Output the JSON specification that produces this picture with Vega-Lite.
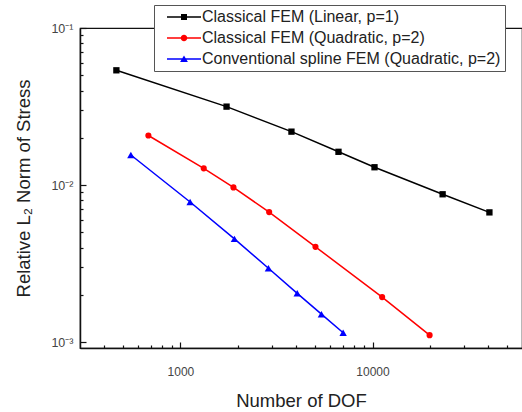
{
  "$schema": "https://vega.github.io/schema/vega-lite/v6.json",
  "autosize": {"type": "none"},
  "padding": {"left": 80, "top": 28, "right": 0, "bottom": 64},
  "width": 442,
  "height": 320,
  "config": {
    "view": {"stroke": "#111", "strokeWidth": 1.2},
    "font": "Liberation Sans"
  },
  "data": {
    "values": [
      {"series": "Classical FEM (Linear, p=1)", "dof": 464, "err": 0.0538},
      {"series": "Classical FEM (Linear, p=1)", "dof": 1738, "err": 0.0316},
      {"series": "Classical FEM (Linear, p=1)", "dof": 3784, "err": 0.0219},
      {"series": "Classical FEM (Linear, p=1)", "dof": 6650, "err": 0.0163},
      {"series": "Classical FEM (Linear, p=1)", "dof": 10240, "err": 0.0130},
      {"series": "Classical FEM (Linear, p=1)", "dof": 23170, "err": 0.00875},
      {"series": "Classical FEM (Linear, p=1)", "dof": 40600, "err": 0.00671},
      {"series": "Classical FEM (Quadratic, p=2)", "dof": 681, "err": 0.0207},
      {"series": "Classical FEM (Quadratic, p=2)", "dof": 1322, "err": 0.0128},
      {"series": "Classical FEM (Quadratic, p=2)", "dof": 1888, "err": 0.00967},
      {"series": "Classical FEM (Quadratic, p=2)", "dof": 2896, "err": 0.00674},
      {"series": "Classical FEM (Quadratic, p=2)", "dof": 5047, "err": 0.00405},
      {"series": "Classical FEM (Quadratic, p=2)", "dof": 11220, "err": 0.00194},
      {"series": "Classical FEM (Quadratic, p=2)", "dof": 19820, "err": 0.00111},
      {"series": "Conventional spline FEM (Quadratic, p=2)", "dof": 552, "err": 0.01556},
      {"series": "Conventional spline FEM (Quadratic, p=2)", "dof": 1123, "err": 0.00781},
      {"series": "Conventional spline FEM (Quadratic, p=2)", "dof": 1910, "err": 0.00455},
      {"series": "Conventional spline FEM (Quadratic, p=2)", "dof": 2872, "err": 0.00296},
      {"series": "Conventional spline FEM (Quadratic, p=2)", "dof": 4055, "err": 0.00205},
      {"series": "Conventional spline FEM (Quadratic, p=2)", "dof": 5420, "err": 0.00151},
      {"series": "Conventional spline FEM (Quadratic, p=2)", "dof": 7030, "err": 0.00115}
    ]
  },
  "encoding": {
    "x": {
      "field": "dof",
      "type": "quantitative",
      "scale": {"type": "log", "domain": [300, 60000], "nice": false},
      "axis": {
        "title": "Number of DOF",
        "titleFontSize": 18.5,
        "titleFontWeight": "normal",
        "titleColor": "#222",
        "titlePadding": 14,
        "values": [400, 500, 600, 700, 800, 900, 1000, 2000, 3000, 4000, 5000, 6000, 7000, 8000, 9000, 10000, 20000, 30000, 40000, 50000],
        "labelExpr": "datum.value == 1000 ? '1000' : datum.value == 10000 ? '10000' : ''",
        "labelFontSize": 12,
        "labelColor": "#444",
        "labelPadding": 24,
        "tickSize": {"condition": {"test": "datum.value == 1000 || datum.value == 10000", "value": -6}, "value": -3},
        "tickColor": "#111",
        "tickWidth": 1.2,
        "domainColor": "#111",
        "domainWidth": 1.5,
        "grid": false
      }
    },
    "y": {
      "field": "err",
      "type": "quantitative",
      "scale": {"type": "log", "domain": [0.00092, 0.1], "nice": false},
      "axis": {
        "title": "Relative L₂ Norm of Stress",
        "titleFontSize": 18.5,
        "titleFontWeight": "normal",
        "titleColor": "#222",
        "titlePadding": 17,
        "values": [0.001, 0.002, 0.003, 0.004, 0.005, 0.006, 0.007, 0.008, 0.009, 0.01, 0.02, 0.03, 0.04, 0.05, 0.06, 0.07, 0.08, 0.09, 0.1],
        "labelExpr": "datum.value == 0.1 ? '10⁻¹' : datum.value == 0.01 ? '10⁻²' : datum.value == 0.001 ? '10⁻³' : ''",
        "labelFontSize": 12.5,
        "labelColor": "#444",
        "labelPadding": 13,
        "tickSize": {"condition": {"test": "datum.value == 0.1 || datum.value == 0.01 || datum.value == 0.001", "value": -6}, "value": -3},
        "tickColor": "#111",
        "tickWidth": 1.2,
        "domainColor": "#111",
        "domainWidth": 1.5,
        "grid": false
      }
    }
  },
  "layer": [
    {
      "transform": [{"filter": "datum.series == 'Classical FEM (Linear, p=1)'"}],
      "mark": {"type": "line", "strokeWidth": 1.5, "color": "#000000", "point": {"filled": true, "shape": "square", "size": 40, "color": "#000000", "opacity": 1}}
    },
    {
      "transform": [{"filter": "datum.series == 'Classical FEM (Quadratic, p=2)'"}],
      "mark": {"type": "line", "strokeWidth": 1.5, "color": "#ff0000", "point": {"filled": true, "shape": "circle", "size": 38, "color": "#ff0000", "opacity": 1}}
    },
    {
      "transform": [{"filter": "datum.series == 'Conventional spline FEM (Quadratic, p=2)'"}],
      "mark": {"type": "line", "strokeWidth": 1.5, "color": "#0000ff", "point": {"filled": true, "shape": "triangle-up", "size": 55, "color": "#0000ff", "opacity": 1}}
    },
    {
      "mark": {"type": "point", "filled": true, "opacity": 0},
      "encoding": {
        "color": {
          "field": "series",
          "type": "nominal",
          "scale": {"range": ["#000000", "#ff0000", "#0000ff"]},
          "legend": {
            "title": null, "orient": "none", "legendX": 74, "legendY": -23,
            "symbolSize": 4, "symbolOffset": 18, "labelOffset": 10, "symbolOpacity": 1,
            "labelFontSize": 16, "labelColor": "#222", "labelLimit": 400,
            "rowPadding": 5, "padding": 4, "strokeColor": "#555", "fillColor": "#ffffff"
          }
        },
        "shape": {
          "field": "series",
          "type": "nominal",
          "scale": {
            "range": [
              "M-17,-0.7H17V0.7H-17Z M-3,-3H3V3H-3Z",
              "M-17,-0.7H17V0.7H-17Z M-3.3,0A3.3,3.3,0,1,1,3.3,0A3.3,3.3,0,1,1,-3.3,0Z",
              "M-17,-0.7H17V0.7H-17Z M0,-3.6L3.9,3H-3.9Z"
            ]
          },
          "legend": {
            "title": null, "orient": "none", "legendX": 74, "legendY": -23,
            "symbolSize": 4, "symbolOffset": 18, "labelOffset": 10, "symbolOpacity": 1,
            "labelFontSize": 16, "labelColor": "#222", "labelLimit": 400,
            "rowPadding": 5, "padding": 4, "strokeColor": "#555", "fillColor": "#ffffff"
          }
        }
      }
    }
  ]
}
